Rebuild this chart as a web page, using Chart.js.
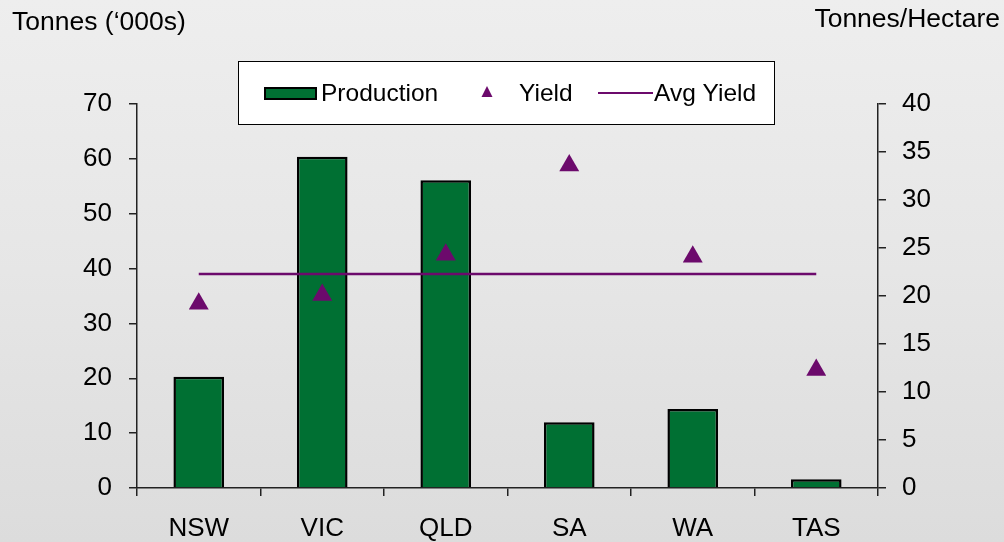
<!DOCTYPE html>
<html>
<head>
<meta charset="utf-8">
<script src="https://cdn.jsdelivr.net/npm/chart.js@4/dist/chart.umd.min.js"></script>
<style>
  html, body { margin: 0; padding: 0; }
  body { width: 1004px; height: 542px; background: linear-gradient(180deg, #eeeeee 0%, #e6e6e6 50%, #dcdcdc 100%); overflow: hidden; }
  #wrap { position: relative; width: 1004px; height: 542px; }
</style>
</head>
<body>
<div id="wrap"><canvas id="cropChart" width="1004" height="542"></canvas></div>
<script>
// Data
const states = ["NSW", "VIC", "QLD", "SA", "WA", "TAS"];
const production = [20.3, 60.4, 56.1, 12.0, 14.4, 1.6];   // tonnes ('000s)
const yieldVals = [19.2, 20.1, 24.3, 33.6, 24.1, 12.3];    // tonnes/hectare
const avgYield = [22.3, 22.3, 22.3, 22.3, 22.3, 22.3];
const leftTicks = [0, 10, 20, 30, 40, 50, 60, 70];
const rightTicks = [0, 5, 10, 15, 20, 25, 30, 35, 40];

const FONT = "'Liberation Sans', Arial, sans-serif";
const GREEN = "#007033", PURPLE = "#6c0a6c";

// Titles + legend box drawn on canvas
const extras = {
  id: "extras",
  afterDraw(chart) {
    const ctx = chart.ctx;
    ctx.save();
    ctx.fillStyle = "#000";
    ctx.font = "26.5px " + FONT;
    ctx.textBaseline = "alphabetic";
    ctx.textAlign = "left";
    ctx.fillText("Tonnes (\u2018000s)", 12, 30);
    ctx.textAlign = "right";
    ctx.fillText("Tonnes/Hectare", 1000, 27);

    // legend
    ctx.fillStyle = "#fff";
    ctx.fillRect(238, 61, 537, 64);
    ctx.strokeStyle = "#000";
    ctx.lineWidth = 1;
    ctx.strokeRect(238.5, 61.5, 536, 63);

    ctx.fillStyle = GREEN;
    ctx.fillRect(264, 87, 53, 13);
    ctx.lineWidth = 2;
    ctx.strokeRect(265, 88, 51, 11);

    ctx.fillStyle = PURPLE;
    ctx.beginPath();
    ctx.moveTo(487, 86);
    ctx.lineTo(492.5, 97);
    ctx.lineTo(481.5, 97);
    ctx.closePath();
    ctx.fill();

    ctx.strokeStyle = PURPLE;
    ctx.lineWidth = 2;
    ctx.beginPath();
    ctx.moveTo(598, 93);
    ctx.lineTo(653, 93);
    ctx.stroke();

    ctx.fillStyle = "#000";
    ctx.font = "24.5px " + FONT;
    ctx.textAlign = "left";
    ctx.fillText("Production", 321, 101);
    ctx.fillText("Yield", 519, 101);
    ctx.fillText("Avg Yield", 654, 101);
    ctx.restore();
  }
};

new Chart(document.getElementById("cropChart").getContext("2d"), {
  type: "bar",
  data: {
    labels: states,
    datasets: [
      { type: "line", label: "Avg Yield", data: avgYield, yAxisID: "y2", borderColor: PURPLE, borderWidth: 2.5, pointRadius: 0, fill: false, order: 0 },
      { type: "line", label: "Yield", data: yieldVals, yAxisID: "y2", showLine: false, pointStyle: "triangle", pointRadius: 11.5, pointBackgroundColor: PURPLE, pointBorderColor: PURPLE, pointBorderWidth: 0, order: 1 },
      { label: "Production", data: production, yAxisID: "y", backgroundColor: GREEN, borderColor: "#000", borderWidth: 2.5, barPercentage: 0.41, categoryPercentage: 1, order: 2 }
    ]
  },
  options: {
    responsive: false,
    animation: false,
    layout: { padding: { top: 104, left: 0, right: 0, bottom: 0 } },
    plugins: { legend: { display: false }, tooltip: { enabled: false } },
    scales: {
      x: {
        offset: true,
        grid: { offset: true, drawOnChartArea: false, drawTicks: true, tickLength: 8, tickColor: "#222", lineWidth: 1.5 },
        border: { color: "#222", width: 1.5 },
        ticks: { color: "#000", font: { family: FONT, size: 26 }, padding: 17 },
        afterFit: (s) => { s.height = 54; }
      },
      y: {
        position: "left", min: 0, max: 70,
        afterBuildTicks: (s) => { s.ticks = leftTicks.map(v => ({ value: v })); },
        grid: { drawOnChartArea: false, tickLength: 8, tickColor: "#222", lineWidth: 1.5 },
        border: { color: "#222", width: 1.5 },
        ticks: { color: "#000", font: { family: FONT, size: 26 }, padding: 17 },
        afterFit: (s) => { s.width = 137; }
      },
      y2: {
        position: "right", min: 0, max: 40,
        afterBuildTicks: (s) => { s.ticks = rightTicks.map(v => ({ value: v })); },
        grid: { drawOnChartArea: false, tickLength: 8, tickColor: "#222", lineWidth: 1.5 },
        border: { color: "#222", width: 1.5 },
        ticks: { color: "#000", font: { family: FONT, size: 26 }, padding: 16 },
        afterFit: (s) => { s.width = 126; }
      }
    }
  },
  plugins: [extras]
});
</script>
</body>
</html>
